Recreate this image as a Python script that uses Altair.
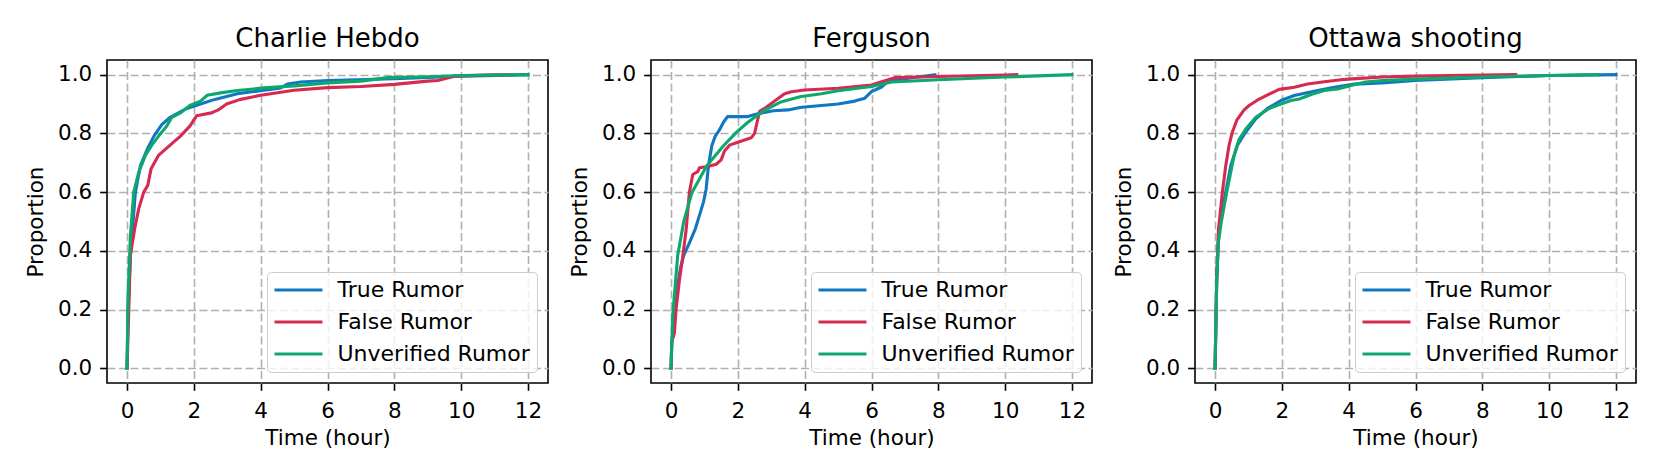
import altair as alt
import pandas as pd

FONT = "DejaVu Sans"
EVENTS = ["Charlie Hebdo", "Ferguson", "Ottawa shooting"]
SERIES = ["True Rumor", "False Rumor", "Unverified Rumor"]
COLORS = ["#1277c1", "#d62a50", "#0ea86d"]
X_TICKS = [0, 2, 4, 6, 8, 10, 12]
Y_TICKS = [0.0, 0.2, 0.4, 0.6, 0.8, 1.0]

# ---- Charlie Hebdo ----
ch_true_t = [0, 0.03, 0.1, 0.25, 0.4, 0.62, 0.8, 1.04, 1.29, 1.79, 2.2, 2.6, 3.3, 4.1, 4.6, 4.8, 5.2, 6, 8, 10, 12]
ch_true_p = [0, 0.2, 0.385, 0.6, 0.69, 0.75, 0.79, 0.83, 0.855, 0.885, 0.9, 0.915, 0.935, 0.947, 0.955, 0.968, 0.975, 0.98, 0.986, 0.995, 1.0]
ch_false_t = [0, 0.07, 0.1, 0.23, 0.35, 0.5, 0.62, 0.72, 0.94, 1.29, 1.59, 1.88, 2.08, 2.53, 2.73, 2.98, 3.37, 4.0, 5, 6, 7, 8, 9, 9.3, 9.8, 11, 11.5]
ch_false_p = [0, 0.27, 0.385, 0.476, 0.544, 0.6, 0.623, 0.68, 0.725, 0.76, 0.79, 0.825, 0.86, 0.87, 0.88, 0.9, 0.915, 0.93, 0.947, 0.956, 0.96, 0.967, 0.978, 0.98, 0.995, 1.0, 1.0]
ch_unv_t = [0, 0.03, 0.1, 0.2, 0.35, 0.55, 0.74, 0.94, 1.19, 1.34, 1.6, 1.88, 2.2, 2.4, 2.8, 3.3, 4.1, 5, 6, 7, 7.8, 9, 10, 12]
ch_unv_p = [0, 0.25, 0.45, 0.6, 0.668, 0.725, 0.76, 0.79, 0.825, 0.855, 0.87, 0.895, 0.91, 0.93, 0.938, 0.946, 0.955, 0.962, 0.972, 0.978, 0.99, 0.993, 0.997, 1.0]

# ---- Ferguson ----
fg_true_t = [0, 0.02, 0.05, 0.18, 0.28, 0.38, 0.56, 0.73, 0.88, 0.97, 1.05, 1.12, 1.22, 1.32, 1.44, 1.57, 1.69, 2.27, 2.57, 3.06, 3.5, 3.86, 4, 5, 5.5, 5.8, 6, 6.3, 6.5, 7, 7.9]
fg_true_p = [0, 0.08, 0.12, 0.272, 0.34, 0.385, 0.43, 0.476, 0.532, 0.566, 0.61, 0.69, 0.758, 0.79, 0.81, 0.838, 0.857, 0.857, 0.866, 0.877, 0.88, 0.888, 0.89, 0.90, 0.91, 0.92, 0.942, 0.958, 0.978, 0.986, 1.0]
fg_false_t = [0, 0.02, 0.1, 0.15, 0.25, 0.35, 0.45, 0.55, 0.65, 0.8, 0.85, 1.1, 1.35, 1.5, 1.6, 1.75, 2.0, 2.4, 2.5, 2.65, 2.8, 3.1, 3.4, 3.6, 4.0, 5, 6, 6.5, 6.7, 8, 10, 10.35]
fg_false_p = [0, 0.09, 0.12, 0.2, 0.3, 0.38, 0.47, 0.6, 0.66, 0.67, 0.683, 0.687, 0.695, 0.71, 0.74, 0.76, 0.77, 0.785, 0.80, 0.875, 0.885, 0.91, 0.935, 0.942, 0.948, 0.954, 0.965, 0.983, 0.99, 0.994, 0.999, 1.0]
fg_unv_t = [0, 0.05, 0.2, 0.38, 0.63, 1.07, 1.57, 1.97, 2.3, 2.77, 3.26, 3.86, 4.5, 5, 6, 6.6, 8, 10, 12]
fg_unv_p = [0, 0.18, 0.385, 0.5, 0.6, 0.69, 0.758, 0.805, 0.838, 0.877, 0.906, 0.925, 0.935, 0.945, 0.96, 0.975, 0.983, 0.992, 1.0]

# ---- Ottawa shooting ----
ot_true_t = [0, 0.05, 0.1, 0.15, 0.32, 0.47, 0.67, 0.92, 1.22, 1.57, 1.97, 2.37, 3.07, 3.57, 4.17, 5, 6, 8, 10, 12]
ot_true_p = [0, 0.3, 0.43, 0.5, 0.6, 0.69, 0.76, 0.805, 0.85, 0.885, 0.912, 0.929, 0.946, 0.957, 0.968, 0.972, 0.98, 0.99, 0.997, 1.0]
ot_false_t = [0, 0.05, 0.1, 0.22, 0.32, 0.42, 0.52, 0.65, 0.87, 1.02, 1.32, 1.62, 1.92, 2.37, 2.77, 3.27, 3.77, 4, 5, 6, 7, 8, 9]
ot_false_p = [0, 0.3, 0.47, 0.6, 0.69, 0.76, 0.805, 0.845, 0.88, 0.895, 0.917, 0.934, 0.95, 0.957, 0.968, 0.976, 0.983, 0.985, 0.992, 0.995, 0.997, 0.999, 1.0]
ot_unv_t = [0, 0.05, 0.1, 0.19, 0.35, 0.47, 0.57, 0.72, 0.92, 1.22, 1.62, 1.97, 2.27, 2.52, 2.92, 3.27, 3.67, 4.07, 4.5, 5, 6, 8, 10, 11.45]
ot_unv_p = [0, 0.3, 0.43, 0.5, 0.6, 0.668, 0.725, 0.78, 0.815, 0.855, 0.885, 0.9, 0.912, 0.917, 0.934, 0.946, 0.951, 0.963, 0.975, 0.98, 0.985, 0.992, 0.997, 1.0]

PANELS = {
    "Charlie Hebdo": [(ch_true_t, ch_true_p), (ch_false_t, ch_false_p), (ch_unv_t, ch_unv_p)],
    "Ferguson": [(fg_true_t, fg_true_p), (fg_false_t, fg_false_p), (fg_unv_t, fg_unv_p)],
    "Ottawa shooting": [(ot_true_t, ot_true_p), (ot_false_t, ot_false_p), (ot_unv_t, ot_unv_p)],
}


def make_df(name):
    rows = []
    for (ts, ps), s in zip(PANELS[name], SERIES):
        for t, p in zip(ts, ps):
            rows.append({"t": t, "p": p, "series": s})
    return pd.DataFrame(rows)


def panel(name):
    return (
        alt.Chart(make_df(name), title=name)
        .mark_line(strokeWidth=3.1, strokeJoin="round", strokeCap="square")
        .encode(
            x=alt.X("t:Q",
                    scale=alt.Scale(domain=[-0.6, 12.6], nice=False, zero=False),
                    axis=alt.Axis(values=X_TICKS, format="d", title="Time (hour)")),
            y=alt.Y("p:Q",
                    scale=alt.Scale(domain=[-0.05, 1.05], nice=False, zero=False),
                    axis=alt.Axis(values=Y_TICKS, format=".1f", title="Proportion")),
            color=alt.Color("series:N",
                            scale=alt.Scale(domain=SERIES, range=COLORS),
                            legend=alt.Legend(
                                title=None, orient="bottom-right", offset=11.5,
                                padding=7, cornerRadius=4,
                                strokeColor="#cccccc",
                                fillColor="rgba(255,255,255,0.8)",
                                symbolType="M-3,0H3", symbolSize=256,
                                symbolStrokeWidth=3.1, symbolOffset=13.5,
                                labelOffset=28, rowPadding=10,
                                labelLimit=400,
                                labelFont=FONT, labelFontSize=22,
                                labelColor="black")),
        )
        .properties(width=441, height=323)
    )


chart = (
    alt.hconcat(*[panel(n) for n in EVENTS], spacing=19)
    .resolve_legend(color="independent")
    .properties(padding={"left": 16, "top": 16, "right": 5, "bottom": 5})
    .configure(font=FONT)
    .configure_view(stroke="black", strokeWidth=1.6)
    .configure_title(font=FONT, fontSize=26, fontWeight="normal", color="black",
                     anchor="middle", frame="group", baseline="alphabetic", offset=8.5)
    .configure_axis(
        domain=False, grid=True, gridColor="#b0b0b0", gridDash=[8, 3.5], gridWidth=1.6,
        tickColor="black", tickSize=7.3, tickWidth=1.6,
        labelFont=FONT, labelFontSize=21.5, labelColor="black", labelFlush=False,
        titleFont=FONT, titleFontSize=21.5, titleFontWeight="normal", titleColor="black",
    )
    .configure_axisX(labelPadding=10, titlePadding=6)
    .configure_axisY(labelPadding=8, titlePadding=10)
)

chart.save("out.html", embed_options={"renderer": "svg", "actions": False})
